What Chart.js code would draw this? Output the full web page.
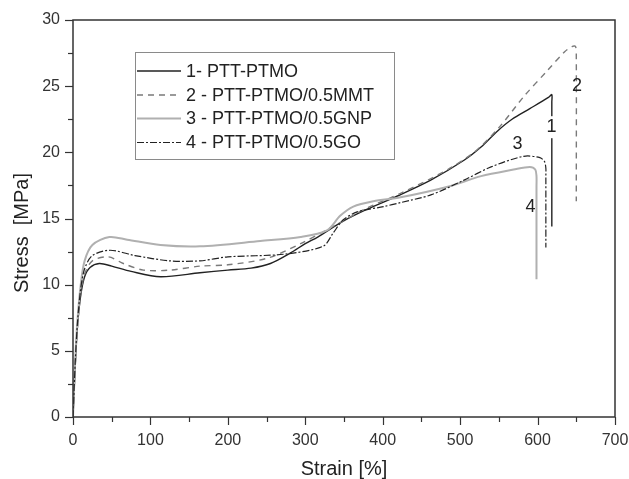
<!DOCTYPE html>
<html><head><meta charset="utf-8">
<script src="https://cdn.jsdelivr.net/npm/chart.js@4"></script>
<style>html,body{margin:0;padding:0;background:#fff;}#wrap{width:629px;height:479px;}</style>
</head><body><div id="wrap"><canvas id="c" width="629" height="479"></canvas></div>
<script>
const seriesLabels = ["1- PTT-PTMO", "2 - PTT-PTMO/0.5MMT", "3 - PTT-PTMO/0.5GNP", "4 - PTT-PTMO/0.5GO"];
const curveTags = ["1", "2", "3", "4"];
const tagStrain = [618, 651, 574, 591];
const tagStress = [21.9, 25.0, 20.6, 15.9];
const xTitle = "Strain [%]";
const yTitle = "Stress  [MPa]";

const strain1 = [0,3,6,10,15,22,34,50,75,113,164,200,230,255,281,300,316,349,380,419,462,505,527,548,567,590,614,618.4,618.4,618.4];
const stress1 = [0,4,7,9.2,10.6,11.3,11.6,11.4,11.0,10.6,10.9,11.1,11.25,11.6,12.4,13.1,13.6,14.8,15.7,16.7,17.9,19.4,20.4,21.6,22.5,23.3,24.15,24.36,23.8,14.4];

const strain2 = [0,3,6,10,15,25,46,65,91,125,164,200,251,294,336,380,423,484,522,552,582,613,635,645,649,650,650];
const stress2 = [0,4,7,9.3,10.8,11.8,12.1,11.6,11.1,11.1,11.4,11.5,12.0,13.1,14.4,15.8,16.9,18.7,20.2,22.0,24.2,26.2,27.6,28.0,28.0,27.4,16.3];

const strain3 = [0,3,6,10,15,25,47,70,113,164,242,294,328,345,362,388,423,484,527,569,590,597,598.6,598.6,598.6];
const stress3 = [0,4.5,7.5,10,11.8,13.0,13.6,13.4,13.0,12.9,13.3,13.6,14.1,15.2,15.9,16.3,16.6,17.4,18.2,18.7,18.9,18.7,18.2,17.4,10.4];

const strain4 = [0,3,6,10,15,25,48,80,125,164,200,272,323,336,349,367,401,423,463,505,540,582,603,609,610.7,610.7,610.7];
const stress4 = [0,4.3,7.3,9.7,11.2,12.2,12.6,12.2,11.8,11.8,12.1,12.3,12.9,13.9,14.9,15.5,15.9,16.2,16.8,17.9,18.9,19.7,19.6,19.3,18.8,18.2,12.8];

const xTicks = [0,100,200,300,400,500,600,700];
const yTicks = [0,5,10,15,20,25,30];

function pts(xs, ys){ return xs.map((x,i)=>({x:x, y:ys[i]})); }

const FONT = "'Liberation Sans', Arial, sans-serif";
const styles = [
  {borderColor:'#222', borderWidth:1.4, borderDash:[]},
  {borderColor:'#7a7a7a', borderWidth:1.4, borderDash:[6,5]},
  {borderColor:'#b0b0b0', borderWidth:2, borderDash:[]},
  {borderColor:'#222', borderWidth:1.2, borderDash:[7,2,2,2]}
];
const allData = [pts(strain1,stress1), pts(strain2,stress2), pts(strain3,stress3), pts(strain4,stress4)];

const framePlugin = {
  id:'frame',
  afterDraw(chart){
    const ctx = chart.ctx, a = chart.chartArea;
    const xs = chart.scales.x, ys = chart.scales.y;
    ctx.save();
    ctx.strokeStyle = '#333'; ctx.lineWidth = 1.5;
    ctx.strokeRect(a.left, a.top, a.right-a.left, a.bottom-a.top);
    ctx.lineWidth = 1.2; ctx.strokeStyle = '#333';
    xs.ticks.forEach(t=>{
      const px = Math.round(xs.getPixelForValue(t.value))+0.5;
      const len = xTicks.includes(t.value) ? 8 : 5;
      ctx.beginPath(); ctx.moveTo(px, a.bottom); ctx.lineTo(px, a.bottom+len); ctx.stroke();
    });
    ys.ticks.forEach(t=>{
      const py = Math.round(ys.getPixelForValue(t.value))+0.5;
      const len = yTicks.includes(t.value) ? 8 : 5;
      ctx.beginPath(); ctx.moveTo(a.left, py); ctx.lineTo(a.left-len, py); ctx.stroke();
    });
    ctx.fillStyle = '#222'; ctx.font = '20px ' + FONT; ctx.textAlign='center'; ctx.textBaseline='middle';
    ctx.fillText(xTitle, 344, 469);
    ctx.save(); ctx.translate(22, 233); ctx.rotate(-Math.PI/2); ctx.fillText(yTitle, 0, 0); ctx.restore();
    ctx.font = '18px ' + FONT;
    curveTags.forEach((t,i)=>{
      const px = xs.getPixelForValue(tagStrain[i]), py = ys.getPixelForValue(tagStress[i]);
      if (i===0){ ctx.fillStyle='#fff'; ctx.fillRect(px-5, py-11, 10, 22); }
      ctx.fillStyle = '#222'; ctx.fillText(t, px, py);
    });
    const L=135, T=52, R=394, B=159;
    ctx.strokeStyle='#8a8a8a'; ctx.lineWidth=1;
    ctx.fillStyle='#fff'; ctx.fillRect(L,T,R-L,B-T);
    ctx.strokeRect(L+0.5,T+0.5,R-L,B-T);
    const rows=[71,95,118.5,142.5];
    seriesLabels.forEach((lab,i)=>{
      const s = styles[i];
      ctx.beginPath(); ctx.setLineDash(s.borderDash); ctx.strokeStyle=s.borderColor; ctx.lineWidth=s.borderWidth;
      ctx.moveTo(137, rows[i]); ctx.lineTo(181, rows[i]); ctx.stroke();
      ctx.setLineDash([]);
      ctx.fillStyle='#222'; ctx.textAlign='left'; ctx.font='18px '+FONT;
      ctx.fillText(lab, 186, rows[i]+1);
    });
    ctx.restore();
  }
};

new Chart(document.getElementById('c'), {
  type:'line',
  data:{ datasets: allData.map((d,i)=>({
    label: seriesLabels[i], data:d, showLine:true, fill:false, pointRadius:0,
    tension:0.3, borderColor:styles[i].borderColor, borderWidth:styles[i].borderWidth,
    borderDash:styles[i].borderDash
  })).reverse() },
  options:{
    responsive:false, animation:false,
    layout:{padding:{left:0,right:14,top:20,bottom:0}},
    plugins:{legend:{display:false}, tooltip:{enabled:false}},
    scales:{
      x:{ type:'linear', min:0, max:700,
        afterFit(s){ s.height = 62; },
        border:{display:false},
        grid:{drawOnChartArea:false, drawTicks:true, tickLength:14, color:'rgba(0,0,0,0)'},
        ticks:{ stepSize:50, autoSkip:false, maxRotation:0, color:'#333', font:{family:FONT, size:16}, padding:0,
          callback:(v)=> xTicks.includes(v) ? String(v) : '' },
        title:{display:false}
      },
      y:{ type:'linear', min:0, max:30,
        afterFit(s){ s.width = 73; },
        border:{display:false},
        grid:{drawOnChartArea:false, drawTicks:true, tickLength:13, color:'rgba(0,0,0,0)'},
        ticks:{ stepSize:2.5, autoSkip:false, color:'#333', font:{family:FONT, size:16}, padding:0,
          callback:(v)=> yTicks.includes(v) ? String(v) : '' },
        title:{display:false}
      }
    }
  },
  plugins:[framePlugin]
});
</script></body></html>
